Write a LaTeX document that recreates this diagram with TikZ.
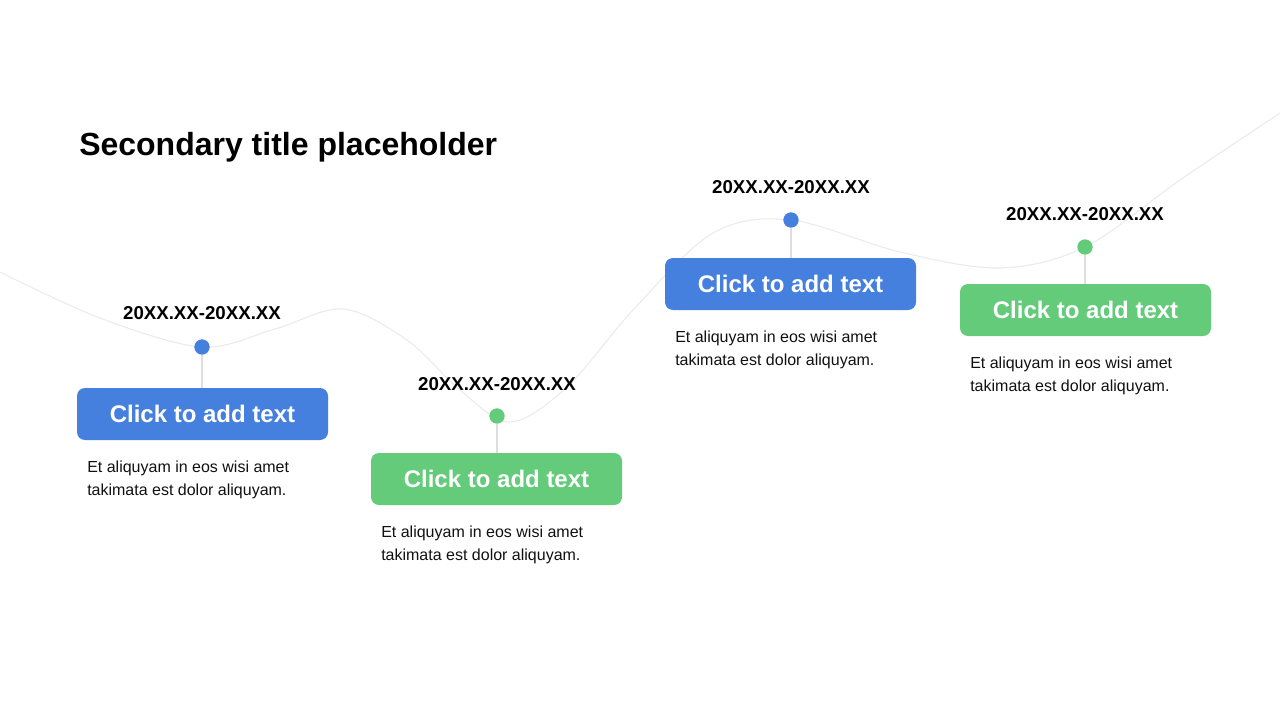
\documentclass[tikz,border=0pt]{standalone}
\usepackage{fontspec}
\setmainfont{Liberation Sans}
\definecolor{tlblue}{HTML}{4680DE}
\definecolor{tlgreen}{HTML}{63CB7A}
\definecolor{curvegray}{HTML}{EBEBEB}
\definecolor{stemgray}{HTML}{DEDEDE}
\definecolor{bodytext}{HTML}{111111}
\begin{document}
\begin{tikzpicture}[x=0.75pt,y=-0.75pt,
  dotnode/.style={circle,inner sep=0pt,minimum size=11.5pt,fill=#1},
  btn/.style={rounded corners=6pt,fill=#1,inner sep=0pt,minimum width=188.25pt,minimum height=39pt,
    text=white,font=\fontsize{18pt}{21pt}\selectfont\bfseries},
  datelbl/.style={anchor=base,inner sep=0pt,font=\fontsize{14pt}{16pt}\selectfont\bfseries},
  body/.style={anchor=base west,inner sep=0pt,align=left,text=bodytext,font=\fontsize{12pt}{17.25pt}\selectfont},
  stem/.style={draw=stemgray,line width=1.1pt},
  curve/.style={draw=curvegray,line width=0.8pt}]
\useasboundingbox (0,0) rectangle (1280,720);
\fill[white] (0,0) rectangle (1280,720);

% background curve
\draw[curve] plot[smooth,tension=0.55] coordinates {(0,272) (100,318) (202,347) (275,329) (343,309) (407,340) (460,390) (510,422) (567,387) (633,310) (713,233) (791,220) (900,252) (1000,268) (1085,247) (1180,180) (1280,113)};

% title
\node[anchor=base west,inner sep=0pt,font=\fontsize{24pt}{28pt}\selectfont\bfseries] (title) at (79,156) {Secondary title placeholder};

% boxes
\node[btn=tlblue] (b1) at (202.5,414) {Click to add text};
\node[btn=tlgreen] (b2) at (496.5,479) {Click to add text};
\node[btn=tlblue] (b3) at (790.5,284) {Click to add text};
\node[btn=tlgreen] (b4) at (1085.5,310) {Click to add text};

% dots
\node[dotnode=tlblue] (d1) at (202,347) {};
\node[dotnode=tlgreen] (d2) at (497,416) {};
\node[dotnode=tlblue] (d3) at (791,220) {};
\node[dotnode=tlgreen] (d4) at (1085,247) {};

% stems
\draw[stem] (d1.south) -- (d1.south |- b1.north);
\draw[stem] (d2.south) -- (d2.south |- b2.north);
\draw[stem] (d3.south) -- (d3.south |- b3.north);
\draw[stem] (d4.south) -- (d4.south |- b4.north);

% date labels
\node[datelbl] (l1) at (202,319) {20XX.XX-20XX.XX};
\node[datelbl] (l2) at (497,390) {20XX.XX-20XX.XX};
\node[datelbl] (l3) at (791,194) {20XX.XX-20XX.XX};
\node[datelbl] (l4) at (1085,221) {20XX.XX-20XX.XX};

% body texts (base anchor = last line's baseline)
\node[body] (t1) at (87,495) {Et aliquyam in eos wisi amet\\takimata est dolor aliquyam.};
\node[body] (t2) at (381,560) {Et aliquyam in eos wisi amet\\takimata est dolor aliquyam.};
\node[body] (t3) at (675,365) {Et aliquyam in eos wisi amet\\takimata est dolor aliquyam.};
\node[body] (t4) at (970,391) {Et aliquyam in eos wisi amet\\takimata est dolor aliquyam.};
\end{tikzpicture}
\end{document}
